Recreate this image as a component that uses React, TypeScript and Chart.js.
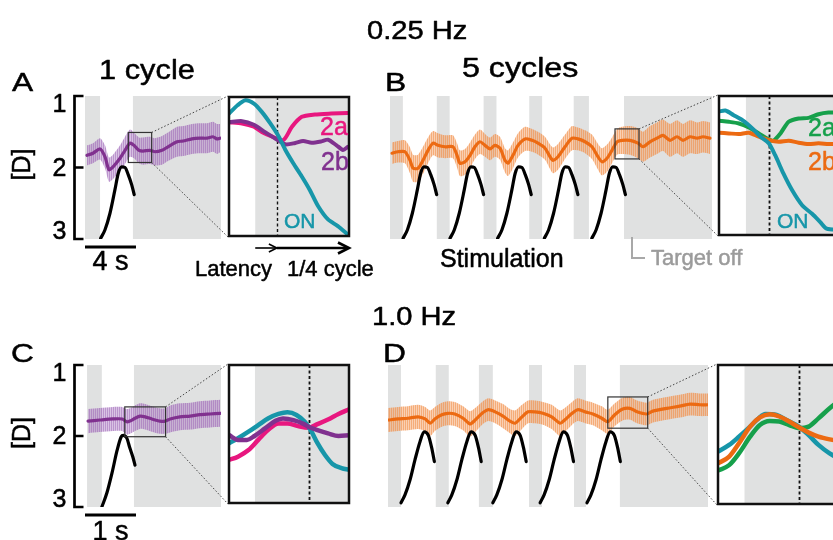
import { useEffect, useRef } from "react";
import { Chart, registerables } from "chart.js";

Chart.register(...registerables);

const CANVAS_W = 860;
const CANVAS_H = 540;
const FONT = '"Liberation Sans", Arial, Helvetica, sans-serif';

const PURPLE = "#80318f";
const ORANGE = "#ec6a12";
const TEAL = "#1796a9";
const PINK = "#e8177f";
const GREEN = "#16a04b";
const TARGET_OFF_GRAY = "#e0e1e1";

// ---------- 0.25 Hz, 1 cycle (A) : time in s, accommodation in D ----------
const A_TIME = [0.16, 0.63, 1.18, 1.57, 1.88, 2.2, 2.75, 3.14, 3.53, 3.84, 4.24, 4.55, 5.1, 5.49, 6.04, 6.51, 7.22, 7.69, 8.39, 9.02, 9.57, 10.04, 10.35, 10.59];
const A_MEAN = [1.83, 1.8, 1.74, 1.85, 2.03, 1.99, 1.87, 1.76, 1.66, 1.69, 1.76, 1.77, 1.76, 1.78, 1.76, 1.71, 1.64, 1.63, 1.6, 1.59, 1.59, 1.57, 1.6, 1.59];
const A_SEM = [0.14, 0.14, 0.15, 0.16, 0.17, 0.17, 0.18, 0.19, 0.19, 0.18, 0.18, 0.19, 0.19, 0.19, 0.2, 0.2, 0.21, 0.21, 0.21, 0.21, 0.21, 0.21, 0.21, 0.2];
const A_STIM_TIME = [1.23, 1.57, 1.96, 2.35, 2.61, 2.88, 3.14, 3.39, 3.66, 3.86];
const A_STIM_D = [2.99, 2.87, 2.64, 2.31, 2.08, 1.99, 2.0, 2.1, 2.24, 2.38];
const A_DARK = [[0, 1.18], [3.76, 10.67]];
const A_RANGE = [0, 10.67];
const A_WINDOW_T = [3.4, 5.23];
const A_WINDOW_D = [1.51, 1.93];
const A_INSET_DARK_FROM = 3.8;
const A_INSET_LATENCY_END = 4.13;
const A_ON_T = [3.4, 3.53, 3.65, 3.78, 3.9, 4.03, 4.16, 4.26, 4.38, 4.51, 4.63, 4.76, 4.91, 5.06, 5.21];
const A_ON_D = [1.56, 1.535, 1.52, 1.53, 1.555, 1.59, 1.63, 1.67, 1.71, 1.75, 1.79, 1.84, 1.88, 1.9, 1.925];
const A_2A_T = [3.4, 3.6, 3.78, 3.9, 4.06, 4.23, 4.36, 4.51, 4.71, 4.96, 5.21];
const A_2A_D = [1.586, 1.59, 1.6, 1.616, 1.63, 1.64, 1.6, 1.57, 1.563, 1.56, 1.558];
const A_2B_T = [3.4, 3.6, 3.78, 3.95, 4.11, 4.26, 4.41, 4.53, 4.66, 4.81, 4.91, 5.04, 5.14, 5.21];
const A_2B_D = [1.586, 1.583, 1.594, 1.616, 1.636, 1.653, 1.649, 1.643, 1.648, 1.644, 1.639, 1.656, 1.67, 1.661];

// ---------- 0.25 Hz, 5 cycles (B) ----------
const B_TIME = [0.17, 0.68, 1.28, 1.71, 1.97, 2.39, 2.82, 3.25, 3.68, 4.1, 4.7, 5.38, 5.73, 5.98, 6.41, 6.84, 7.26, 7.69, 8.12, 8.55, 8.97, 9.4, 9.83, 10.09, 10.51, 10.94, 11.54, 12.14, 12.65, 13.25, 13.68, 13.93, 14.36, 14.96, 15.56, 16.07, 16.67, 17.26, 17.78, 18.12, 18.55, 18.97, 19.4, 19.83, 20.51, 21.2, 21.62, 22.22, 22.82, 23.33, 23.93, 24.53, 25.04, 25.64, 26.24, 26.75, 27.35];
const B_MEAN = [1.8, 1.78, 1.78, 1.9, 2.01, 2.01, 1.9, 1.76, 1.66, 1.69, 1.71, 1.71, 1.83, 1.94, 1.92, 1.83, 1.71, 1.64, 1.69, 1.74, 1.69, 1.73, 1.9, 1.94, 1.83, 1.69, 1.6, 1.62, 1.66, 1.73, 1.85, 1.9, 1.85, 1.71, 1.59, 1.6, 1.64, 1.71, 1.85, 1.92, 1.87, 1.76, 1.64, 1.62, 1.62, 1.66, 1.71, 1.64, 1.59, 1.55, 1.62, 1.57, 1.62, 1.57, 1.59, 1.57, 1.59];
const B_SEM = [0.15, 0.15, 0.16, 0.18, 0.19, 0.19, 0.19, 0.18, 0.17, 0.17, 0.16, 0.16, 0.17, 0.18, 0.18, 0.18, 0.17, 0.17, 0.16, 0.16, 0.16, 0.16, 0.17, 0.18, 0.18, 0.17, 0.17, 0.16, 0.16, 0.16, 0.17, 0.18, 0.18, 0.17, 0.17, 0.16, 0.16, 0.17, 0.18, 0.19, 0.19, 0.18, 0.18, 0.19, 0.2, 0.21, 0.21, 0.22, 0.22, 0.22, 0.23, 0.23, 0.23, 0.23, 0.22, 0.22, 0.22];
const B_STIM_PROFILE_T = [0, 0.37, 0.79, 1.22, 1.5, 1.79, 2.08, 2.36, 2.65, 2.87];
const B_STIM_PROFILE_D = [2.99, 2.87, 2.64, 2.31, 2.08, 1.99, 2.0, 2.1, 2.24, 2.38];
const B_STIM_ONSETS = [1.12, 5.13, 9.2, 13.19, 17.25];
const B_DARK = [[0, 1.1], [4.0, 5.1], [8.0, 9.1], [11.9, 13.0], [15.7, 17.0], [20.0, 27.6]];
const B_RANGE = [0, 27.52];
const B_WINDOW_T = [19.23, 21.28];
const B_WINDOW_D = [1.46, 1.88];
const B_INSET_DARK_FROM = 19.69;
const B_INSET_DASH = 20.09;
const B_ON_T = [19.23, 19.34, 19.48, 19.63, 19.8, 19.94, 20.08, 20.19, 20.33, 20.48, 20.65, 20.82, 20.96, 21.07, 21.28];
const B_ON_D = [1.507, 1.504, 1.518, 1.533, 1.558, 1.583, 1.603, 1.639, 1.694, 1.745, 1.79, 1.816, 1.841, 1.861, 1.864];
const B_2A_T = [19.23, 19.4, 19.57, 19.74, 19.91, 20.08, 20.16, 20.28, 20.42, 20.59, 20.76, 20.93, 21.1, 21.28];
const B_2A_D = [1.535, 1.538, 1.543, 1.555, 1.573, 1.591, 1.595, 1.573, 1.538, 1.528, 1.526, 1.515, 1.51, 1.51];
const B_2B_T = [19.23, 19.4, 19.57, 19.74, 19.91, 20.08, 20.25, 20.42, 20.59, 20.76, 20.93, 21.1, 21.28];
const B_2B_D = [1.571, 1.573, 1.575, 1.571, 1.583, 1.593, 1.598, 1.595, 1.601, 1.605, 1.603, 1.605, 1.605];

// ---------- 1.0 Hz, 1 cycle (C) ----------
const C_TIME = [0.06, 0.29, 0.55, 0.73, 0.82, 0.88, 0.98, 1.08, 1.18, 1.31, 1.47, 1.57, 1.67, 1.86, 2.06, 2.25, 2.45, 2.65];
const C_MEAN = [1.79, 1.775, 1.76, 1.76, 1.8, 1.79, 1.75, 1.72, 1.73, 1.76, 1.79, 1.79, 1.76, 1.73, 1.72, 1.7, 1.69, 1.68];
const C_SEM = [0.17, 0.17, 0.17, 0.17, 0.18, 0.18, 0.18, 0.18, 0.18, 0.18, 0.18, 0.18, 0.19, 0.19, 0.19, 0.19, 0.19, 0.19];
const C_STIM_TIME = [0.33, 0.43, 0.53, 0.63, 0.71, 0.75, 0.82, 0.88, 0.94, 0.98];
const C_STIM_D = [3.0, 2.8, 2.52, 2.2, 2.01, 1.99, 2.03, 2.17, 2.3, 2.41];
const C_DARK = [[0.04, 0.33], [0.96, 2.667]];
const C_RANGE = [0, 2.667];
const C_WINDOW_T = [0.78, 1.58];
const C_WINDOW_D = [1.59, 2.01];
const C_INSET_DARK_FROM = 0.953;
const C_INSET_DASH = 1.31;
const C_ON_T = [0.78, 0.84, 0.91, 0.975, 1.04, 1.11, 1.17, 1.23, 1.285, 1.33, 1.37, 1.42, 1.47, 1.53, 1.58];
const C_ON_D = [1.828, 1.813, 1.793, 1.773, 1.753, 1.739, 1.734, 1.742, 1.763, 1.793, 1.828, 1.864, 1.891, 1.904, 1.909];
const C_2A_T = [0.78, 0.84, 0.91, 0.975, 1.04, 1.11, 1.17, 1.24, 1.31, 1.37, 1.44, 1.51, 1.58];
const C_2A_D = [1.879, 1.869, 1.849, 1.818, 1.788, 1.768, 1.768, 1.776, 1.781, 1.77, 1.756, 1.739, 1.725];
const C_2B_T = [0.78, 0.84, 0.9, 0.95, 1.02, 1.09, 1.14, 1.21, 1.28, 1.31, 1.37, 1.44, 1.51, 1.58];
const C_2B_D = [1.803, 1.818, 1.818, 1.806, 1.783, 1.76, 1.753, 1.758, 1.77, 1.778, 1.788, 1.798, 1.806, 1.804];

// ---------- 1.0 Hz, 5 cycles (D) ----------
const D_TIME = [0.0, 0.22, 0.43, 0.65, 0.8, 0.91, 1.01, 1.16, 1.29, 1.44, 1.62, 1.77, 1.88, 2.03, 2.16, 2.31, 2.48, 2.63, 2.74, 2.89, 3.02, 3.17, 3.34, 3.53, 3.71, 3.81, 3.97, 4.09, 4.25, 4.42, 4.61, 4.74, 4.89, 5.06, 5.22, 5.37, 5.58, 5.71, 6.01, 6.29, 6.51, 6.72, 6.9];
const D_MEAN = [1.775, 1.76, 1.75, 1.73, 1.76, 1.82, 1.76, 1.7, 1.68, 1.69, 1.75, 1.83, 1.775, 1.68, 1.63, 1.66, 1.72, 1.79, 1.82, 1.73, 1.66, 1.66, 1.68, 1.73, 1.82, 1.775, 1.68, 1.63, 1.66, 1.69, 1.75, 1.8, 1.7, 1.62, 1.61, 1.66, 1.69, 1.65, 1.61, 1.58, 1.55, 1.56, 1.56];
const D_SEM = [0.17, 0.17, 0.17, 0.17, 0.17, 0.18, 0.17, 0.17, 0.17, 0.17, 0.17, 0.18, 0.17, 0.16, 0.16, 0.16, 0.17, 0.17, 0.18, 0.17, 0.16, 0.16, 0.16, 0.17, 0.18, 0.17, 0.16, 0.16, 0.16, 0.16, 0.17, 0.17, 0.16, 0.16, 0.16, 0.16, 0.16, 0.16, 0.16, 0.16, 0.16, 0.16, 0.16];
const D_STIM_PROFILE_T = [0, 0.086, 0.194, 0.3, 0.41, 0.5, 0.59, 0.66, 0.72];
const D_STIM_PROFILE_D = [2.94, 2.83, 2.62, 2.34, 2.08, 1.94, 1.99, 2.16, 2.36];
const D_STIM_ONSETS = [0.28, 1.29, 2.26, 3.28, 4.29];
const D_DARK = [[0, 0.28], [1.03, 1.31], [1.96, 2.26], [3.04, 3.32], [4.01, 4.27], [5.0, 6.9]];
const D_RANGE = [0, 6.9];
const D_WINDOW_T = [4.74, 5.6];
const D_WINDOW_D = [1.45, 1.89];
const D_INSET_DARK_FROM = 4.93;
const D_INSET_DASH = 5.32;
const D_ON_T = [4.74, 4.82, 4.89, 4.97, 5.03, 5.08, 5.16, 5.23, 5.32, 5.39, 5.46, 5.54, 5.6];
const D_ON_D = [1.724, 1.703, 1.677, 1.645, 1.619, 1.605, 1.608, 1.624, 1.645, 1.672, 1.703, 1.73, 1.745];
const D_2A_T = [4.74, 4.82, 4.89, 4.97, 5.04, 5.11, 5.18, 5.25, 5.32, 5.39, 5.46, 5.54, 5.6];
const D_2A_D = [1.784, 1.767, 1.73, 1.677, 1.64, 1.627, 1.629, 1.64, 1.65, 1.645, 1.619, 1.587, 1.566];
const D_2B_T = [4.74, 4.82, 4.89, 4.97, 5.04, 5.11, 5.18, 5.25, 5.32, 5.39, 5.46, 5.56, 5.6];
const D_2B_D = [1.761, 1.74, 1.698, 1.645, 1.616, 1.606, 1.613, 1.629, 1.647, 1.664, 1.677, 1.687, 1.69];

const DIOPTER_TICKS = [1, 2, 3];
const DIOPTER_RANGE = [1, 3];

// ---------- layout (page pixels) ----------
type Area = { left: number; right: number; top: number; bottom: number };
const AREA_A: Area = { left: 85, right: 221, top: 96, bottom: 239 };
const AREA_A_INSET: Area = { left: 229, right: 349, top: 97, bottom: 236 };
const AREA_B: Area = { left: 390, right: 712, top: 96, bottom: 239 };
const AREA_B_INSET: Area = { left: 719, right: 839, top: 96, bottom: 235 };
const AREA_C: Area = { left: 85, right: 221, top: 365, bottom: 507 };
const AREA_C_INSET: Area = { left: 229, right: 349, top: 365, bottom: 503 };
const AREA_D: Area = { left: 388, right: 708, top: 365, bottom: 507 };
const AREA_D_INSET: Area = { left: 718, right: 838, top: 365, bottom: 504 };

type Label = { text: string; x: number; y: number; size: number; color?: string; sx?: number; align?: CanvasTextAlign };
type Fig = {
  dark?: number[][];
  dash?: number;
  dashWidth?: number;
  frame?: boolean;
  zoom?: { t: number[]; d: number[]; to: Area };
  bracket?: { x: number; tick: number; size: number; title: string; titleX: number; offsets: number[] };
  scaleBar?: { t0: number; t1: number; y: number; label: string; labelY: number; size: number };
  arrows?: { from: number; to: number; y: number; width: number; head: number }[];
  polylines?: { pts: number[][]; color: string; width: number }[];
  labels?: Label[];
};

// text with a hairline outline so it keeps the weight of the printed figure
function drawLabel(ctx: CanvasRenderingContext2D, l: Label) {
  ctx.save();
  ctx.font = `${l.size}px ${FONT}`;
  ctx.fillStyle = l.color || "#000";
  ctx.strokeStyle = l.color || "#000";
  ctx.lineWidth = 0.5;
  ctx.lineJoin = "round";
  ctx.setLineDash([]);
  ctx.textAlign = l.align || "left";
  ctx.textBaseline = "alphabetic";
  ctx.translate(l.x, l.y);
  ctx.scale(l.sx || 1, 1);
  ctx.fillText(l.text, 0, 0);
  ctx.strokeText(l.text, 0, 0);
  ctx.restore();
}

function figurePlugin(fig: Fig) {
  return {
    id: "figure",
    beforeDraw(chart: any) {
      const { ctx, chartArea: a } = chart;
      const xs = chart.scales.x;
      ctx.save();
      ctx.fillStyle = TARGET_OFF_GRAY;
      for (const [s, e] of fig.dark || []) {
        const x0 = Math.max(a.left, xs.getPixelForValue(s));
        const x1 = Math.min(a.right, xs.getPixelForValue(e));
        if (x1 > x0) ctx.fillRect(x0, a.top, x1 - x0, a.bottom - a.top);
      }
      if (fig.dash !== undefined) {
        const x = Math.round(xs.getPixelForValue(fig.dash)) + 0.5;
        ctx.strokeStyle = "#111";
        ctx.lineWidth = fig.dashWidth || 1.4;
        ctx.setLineDash([3, 2.5]);
        ctx.beginPath();
        ctx.moveTo(x, a.top);
        ctx.lineTo(x, a.bottom);
        ctx.stroke();
      }
      ctx.restore();
    },
    afterDraw(chart: any) {
      const { ctx, chartArea: a } = chart;
      const xs = chart.scales.x;
      const ys = chart.scales.y;
      ctx.save();
      if (fig.zoom) {
        const { t, d, to } = fig.zoom;
        const x0 = xs.getPixelForValue(t[0]);
        const x1 = xs.getPixelForValue(t[1]);
        const y0 = ys.getPixelForValue(d[0]);
        const y1 = ys.getPixelForValue(d[1]);
        ctx.strokeStyle = "#333";
        ctx.lineWidth = 1.2;
        ctx.strokeRect(x0, y0, x1 - x0, y1 - y0);
        ctx.setLineDash([1.5, 2]);
        ctx.lineWidth = 1;
        ctx.strokeStyle = "#444";
        ctx.beginPath();
        ctx.moveTo(x1, y0);
        ctx.lineTo(to.left - 1, to.top - 1);
        ctx.moveTo(x1, y1);
        ctx.lineTo(to.left - 1, to.bottom + 1);
        ctx.stroke();
        ctx.setLineDash([]);
      }
      if (fig.frame) {
        ctx.strokeStyle = "#111";
        ctx.lineWidth = 2.5;
        ctx.strokeRect(a.left, a.top, a.right - a.left, a.bottom - a.top);
      }
      if (fig.bracket) {
        const b = fig.bracket;
        const ticks = DIOPTER_TICKS;
        const yt = ys.getPixelForValue(ticks[0]);
        const yb = ys.getPixelForValue(ticks[ticks.length - 1]);
        ctx.strokeStyle = "#000";
        ctx.lineWidth = 2.7;
        ctx.beginPath();
        ctx.moveTo(b.x, yt - 1.35);
        ctx.lineTo(b.x, yb + 1.35);
        for (const v of ticks) {
          const y = ys.getPixelForValue(v);
          ctx.moveTo(b.x, y);
          ctx.lineTo(b.x + b.tick, y);
        }
        ctx.stroke();
        ticks.forEach((v, i) => {
          const y = ys.getPixelForValue(v);
          drawLabel(ctx, { text: String(v), x: b.x - 8, y: y + b.offsets[i], size: b.size, align: "right" });
        });
        ctx.save();
        ctx.translate(b.titleX, (yt + yb) / 2 - 3);
        ctx.rotate(-Math.PI / 2);
        ctx.font = `${b.size}px ${FONT}`;
        ctx.fillStyle = "#000";
        ctx.strokeStyle = "#000";
        ctx.lineWidth = 0.5;
        ctx.textAlign = "center";
        ctx.textBaseline = "middle";
        ctx.fillText(b.title, 0, 0);
        ctx.strokeText(b.title, 0, 0);
        ctx.restore();
      }
      if (fig.scaleBar) {
        const s = fig.scaleBar;
        const xa = xs.getPixelForValue(s.t0);
        const xb = xs.getPixelForValue(s.t1);
        ctx.strokeStyle = "#000";
        ctx.lineWidth = 3;
        ctx.beginPath();
        ctx.moveTo(xa, s.y);
        ctx.lineTo(xb, s.y);
        ctx.stroke();
        drawLabel(ctx, { text: s.label, x: (xa + xb) / 2, y: s.labelY, size: s.size, align: "center" });
      }
      for (const ar of fig.arrows || []) {
        const xa = xs.getPixelForValue(ar.from);
        const xb = xs.getPixelForValue(ar.to);
        ctx.strokeStyle = "#000";
        ctx.lineWidth = ar.width;
        ctx.lineJoin = "miter";
        ctx.beginPath();
        ctx.moveTo(xa, ar.y);
        ctx.lineTo(xb - 1, ar.y);
        ctx.stroke();
        ctx.beginPath();
        ctx.moveTo(xb - ar.head, ar.y - ar.head * 0.5);
        ctx.lineTo(xb, ar.y);
        ctx.lineTo(xb - ar.head, ar.y + ar.head * 0.5);
        ctx.stroke();
      }
      for (const p of fig.polylines || []) {
        ctx.strokeStyle = p.color;
        ctx.lineWidth = p.width;
        ctx.beginPath();
        p.pts.forEach(([x, y], i) => (i ? ctx.lineTo(x, y) : ctx.moveTo(x, y)));
        ctx.stroke();
      }
      for (const l of fig.labels || []) drawLabel(ctx, l);
      ctx.restore();
    },
  };
}

function pts(ts: number[], vs: number[]) {
  return ts.map((t, i) => ({ x: t, y: vs[i] }));
}

function trace(data: { x: number; y: number }[], color: string, width: number, order: number, smooth = false) {
  return {
    data,
    borderColor: color,
    borderWidth: width,
    pointRadius: 0,
    fill: false,
    tension: smooth ? 0 : 0.25,
    cubicInterpolationMode: smooth ? "monotone" : "default",
    borderCapStyle: "round",
    borderJoinStyle: "round",
    order,
  };
}

function errorBand(ts: number[], mean: number[], sem: number[], pattern: any) {
  const edge = { borderWidth: 0, borderColor: "transparent", pointRadius: 0, tension: 0.25, order: 5 };
  return [
    { ...edge, data: pts(ts, mean.map((m, i) => m - sem[i])), fill: "+1", backgroundColor: pattern },
    { ...edge, data: pts(ts, mean.map((m, i) => m + sem[i])), fill: false },
  ];
}

function stimCycles(onsets: number[], relT: number[], relD: number[]) {
  return onsets.map((on) => trace(pts(relT.map((t) => on + t), relD), "#000", 3.2, 0, true));
}

// fine vertical hatching used for the error bands
function stripes(base: string, stripe: string) {
  const c = document.createElement("canvas");
  c.width = 2;
  c.height = 4;
  const g = c.getContext("2d")!;
  g.fillStyle = base;
  g.fillRect(0, 0, 2, 4);
  g.fillStyle = stripe;
  g.fillRect(1, 0, 1, 4);
  return g.createPattern(c, "repeat");
}

function makeChart(canvas: HTMLCanvasElement, area: Area, xr: number[], yr: number[], datasets: any[], fig: Fig) {
  return new Chart(canvas, {
    type: "line",
    data: { datasets },
    options: {
      animation: false,
      responsive: false,
      devicePixelRatio: 1,
      events: [],
      layout: {
        padding: { left: area.left, top: area.top, right: CANVAS_W - area.right, bottom: CANVAS_H - area.bottom },
      },
      scales: {
        x: { type: "linear", display: false, min: xr[0], max: xr[1] },
        y: { type: "linear", display: false, min: yr[0], max: yr[1], reverse: true },
      },
      plugins: {
        legend: { display: false },
        tooltip: { enabled: false },
        filler: { drawTime: "beforeDatasetsDraw" },
      },
    } as any,
    plugins: [figurePlugin(fig) as any],
  });
}

const BRACKET = { x: 74.5, tick: 9, size: 25, title: "[D]", titleX: 23, offsets: [16, 8, 0] };

export default function App() {
  const refs = useRef<(HTMLCanvasElement | null)[]>([]);

  useEffect(() => {
    const purpleBand = stripes("rgba(165,112,190,0.42)", "rgba(155,98,182,0.48)");
    const orangeBand = stripes("rgba(244,152,90,0.46)", "rgba(240,135,62,0.50)");
    const c = refs.current as HTMLCanvasElement[];
    const charts: Chart[] = [];

    // A: 0.25 Hz, single cycle
    charts.push(
      makeChart(c[0], AREA_A, A_RANGE, DIOPTER_RANGE, [
        trace(pts(A_STIM_TIME, A_STIM_D), "#000", 3.2, 0, true),
        trace(pts(A_TIME, A_MEAN), PURPLE, 3.2, 1),
        ...errorBand(A_TIME, A_MEAN, A_SEM, purpleBand),
      ], {
        dark: A_DARK,
        zoom: { t: A_WINDOW_T, d: A_WINDOW_D, to: AREA_A_INSET },
        bracket: BRACKET,
        scaleBar: { t0: 0, t1: 4, y: 247, label: "4 s", labelY: 270, size: 27 },
        labels: [
          { text: "0.25 Hz", x: 367, y: 39, size: 26, sx: 1.12 },
          { text: "A", x: 12, y: 91, size: 26, sx: 1.22 },
          { text: "1 cycle", x: 99, y: 79, size: 28, sx: 1.1 },
        ],
      })
    );
    charts.push(
      makeChart(c[1], AREA_A_INSET, A_WINDOW_T, A_WINDOW_D, [
        trace(pts(A_ON_T, A_ON_D), TEAL, 4, 0),
        trace(pts(A_2B_T, A_2B_D), PURPLE, 4, 1),
        trace(pts(A_2A_T, A_2A_D), PINK, 4, 2),
      ], {
        dark: [[A_INSET_DARK_FROM, A_WINDOW_T[1]]],
        dash: A_INSET_LATENCY_END,
        frame: true,
        arrows: [
          { from: A_INSET_DARK_FROM, to: A_INSET_LATENCY_END, y: 248, width: 1.6, head: 8 },
          { from: A_INSET_LATENCY_END, to: A_WINDOW_T[1], y: 248, width: 2.6, head: 11 },
        ],
        labels: [
          { text: "2a", x: 320, y: 135, size: 25, color: PINK },
          { text: "2b", x: 321, y: 170, size: 25, color: PURPLE },
          { text: "ON", x: 284, y: 228, size: 21, color: TEAL },
          { text: "Latency", x: 195, y: 276, size: 22 },
          { text: "1/4 cycle", x: 287, y: 276, size: 22 },
        ],
      })
    );

    // B: 0.25 Hz, five cycles
    charts.push(
      makeChart(c[2], AREA_B, B_RANGE, DIOPTER_RANGE, [
        ...stimCycles(B_STIM_ONSETS, B_STIM_PROFILE_T, B_STIM_PROFILE_D),
        trace(pts(B_TIME, B_MEAN), ORANGE, 3.2, 1),
        ...errorBand(B_TIME, B_MEAN, B_SEM, orangeBand),
      ], {
        dark: B_DARK,
        zoom: { t: B_WINDOW_T, d: B_WINDOW_D, to: AREA_B_INSET },
        polylines: [{ pts: [[632, 237], [632, 258], [645, 258]], color: "#a8a8a8", width: 2 }],
        labels: [
          { text: "B", x: 385, y: 91, size: 26, sx: 1.22 },
          { text: "5 cycles", x: 462, y: 77, size: 28, sx: 1.15 },
          { text: "Stimulation", x: 440, y: 267, size: 25 },
          { text: "Target off", x: 651, y: 265, size: 22, color: "#9b9b9b" },
        ],
      })
    );
    charts.push(
      makeChart(c[3], AREA_B_INSET, B_WINDOW_T, B_WINDOW_D, [
        trace(pts(B_ON_T, B_ON_D), TEAL, 4, 0),
        trace(pts(B_2B_T, B_2B_D), ORANGE, 4, 1),
        trace(pts(B_2A_T, B_2A_D), GREEN, 4, 2),
      ], {
        dark: [[B_INSET_DARK_FROM, B_WINDOW_T[1]]],
        dash: B_INSET_DASH,
        dashWidth: 1.8,
        frame: true,
        labels: [
          { text: "2a", x: 808, y: 136, size: 25, color: GREEN },
          { text: "2b", x: 808, y: 170, size: 25, color: ORANGE },
          { text: "ON", x: 777, y: 228, size: 21, color: TEAL },
        ],
      })
    );

    // C: 1.0 Hz, single cycle
    charts.push(
      makeChart(c[4], AREA_C, C_RANGE, DIOPTER_RANGE, [
        trace(pts(C_STIM_TIME, C_STIM_D), "#000", 3.2, 0, true),
        trace(pts(C_TIME, C_MEAN), PURPLE, 3.2, 1),
        ...errorBand(C_TIME, C_MEAN, C_SEM, purpleBand),
      ], {
        dark: C_DARK,
        zoom: { t: C_WINDOW_T, d: C_WINDOW_D, to: AREA_C_INSET },
        bracket: BRACKET,
        scaleBar: { t0: 0, t1: 1, y: 515, label: "1 s", labelY: 540, size: 27 },
        labels: [
          { text: "1.0 Hz", x: 372, y: 325, size: 26, sx: 1.12 },
          { text: "C", x: 11, y: 362, size: 26, sx: 1.22 },
        ],
      })
    );
    charts.push(
      makeChart(c[5], AREA_C_INSET, C_WINDOW_T, C_WINDOW_D, [
        trace(pts(C_2B_T, C_2B_D), PURPLE, 4.5, 0, true),
        trace(pts(C_ON_T, C_ON_D), TEAL, 4.5, 1, true),
        trace(pts(C_2A_T, C_2A_D), PINK, 4.5, 2, true),
      ], {
        dark: [[C_INSET_DARK_FROM, C_WINDOW_T[1]]],
        dash: C_INSET_DASH,
        dashWidth: 1.8,
        frame: true,
      })
    );

    // D: 1.0 Hz, five cycles
    charts.push(
      makeChart(c[6], AREA_D, D_RANGE, DIOPTER_RANGE, [
        ...stimCycles(D_STIM_ONSETS, D_STIM_PROFILE_T, D_STIM_PROFILE_D),
        trace(pts(D_TIME, D_MEAN), ORANGE, 3.2, 1),
        ...errorBand(D_TIME, D_MEAN, D_SEM, orangeBand),
      ], {
        dark: D_DARK,
        zoom: { t: D_WINDOW_T, d: D_WINDOW_D, to: AREA_D_INSET },
        labels: [{ text: "D", x: 383, y: 362, size: 26, sx: 1.22 }],
      })
    );
    charts.push(
      makeChart(c[7], AREA_D_INSET, D_WINDOW_T, D_WINDOW_D, [
        trace(pts(D_2B_T, D_2B_D), ORANGE, 4.5, 0, true),
        trace(pts(D_ON_T, D_ON_D), TEAL, 4.5, 1, true),
        trace(pts(D_2A_T, D_2A_D), GREEN, 4.5, 2, true),
      ], {
        dark: [[D_INSET_DARK_FROM, D_WINDOW_T[1]]],
        dash: D_INSET_DASH,
        dashWidth: 1.8,
        frame: true,
      })
    );

    return () => charts.forEach((ch) => ch.destroy());
  }, []);

  return (
    <div
      style={{
        position: "absolute",
        left: 0,
        top: 0,
        width: 833,
        height: 540,
        overflow: "hidden",
        background: "#fff",
      }}
    >
      {Array.from({ length: 8 }).map((_, i) => (
        <canvas
          key={i}
          ref={(el) => {
            refs.current[i] = el;
          }}
          width={CANVAS_W}
          height={CANVAS_H}
          style={{ position: "absolute", left: 0, top: 0 }}
        />
      ))}
    </div>
  );
}
